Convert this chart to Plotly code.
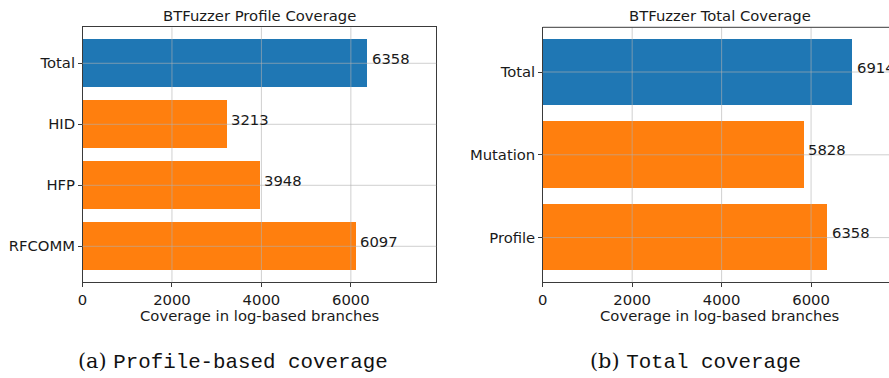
import plotly.graph_objects as go

# ---- data ----
profile_cats = ["RFCOMM", "HFP", "HID", "Total"]
profile_vals = [6097, 3948, 3213, 6358]
profile_colors = ["#ff7f0e", "#ff7f0e", "#ff7f0e", "#1f77b4"]

total_cats = ["Profile", "Mutation", "Total"]
total_vals = [6358, 5828, 6914]
total_colors = ["#ff7f0e", "#ff7f0e", "#1f77b4"]

x_ticks = [0, 2000, 4000, 6000]
x_tick_labels = ["0", "2000", "4000", "6000"]

title_left = "BTFuzzer Profile Coverage"
title_right = "BTFuzzer Total Coverage"
x_title = "Coverage in log-based branches"
cap_left = ("(a)", "Profile-based coverage")
cap_right = ("(b)", "Total coverage")

W, H = 889, 378
FONT = "DejaVu Sans"
FS = 14.8
TXT = "#1a1a1a"
SPINE = "#3a3a3a"
GRID = "rgba(176,176,176,0.6)"

# geometry (pixels)
L_x0, L_x1 = 82.5, 436.3
R_x0 = 542.7
XMAX = 7910.0
px_per_unit = (L_x1 - L_x0) / XMAX
R_full_right = R_x0 + (L_x1 - L_x0)          # right panel extends past the picture
R_xmax = (W - R_x0) / px_per_unit
top_px, bot_px = 27.3, 282.3

fig = go.Figure()

fig.add_trace(go.Bar(
    x=profile_vals, y=profile_cats, orientation="h",
    marker=dict(color=profile_colors, line=dict(width=0)),
    width=0.8, xaxis="x", yaxis="y", showlegend=False, hoverinfo="x+y",
))
fig.add_trace(go.Bar(
    x=total_vals, y=total_cats, orientation="h",
    marker=dict(color=total_colors, line=dict(width=0)),
    width=0.8, xaxis="x2", yaxis="y2", showlegend=False, hoverinfo="x+y",
))

ydom = [(H - bot_px) / H, (H - top_px) / H]
axis_common = dict(
    showgrid=False, zeroline=False, showline=True, linecolor=SPINE, linewidth=1,
    ticks="outside", ticklen=3.5, tickwidth=1, tickcolor=SPINE, automargin=False,
    tickfont=dict(family=FONT, size=FS, color=TXT),
)

fig.update_layout(
    width=W, height=H, margin=dict(l=0, r=0, t=0, b=0, autoexpand=False),
    paper_bgcolor="white", plot_bgcolor="white",
    bargap=0,
    xaxis=dict(domain=[L_x0 / W, L_x1 / W], range=[0, XMAX], anchor="y",
               tickvals=x_ticks, ticktext=x_tick_labels, mirror=True, **axis_common),
    yaxis=dict(domain=ydom, range=[-0.59, len(profile_cats) - 1 + 0.59], anchor="x",
               type="category", categoryorder="array", categoryarray=profile_cats,
               mirror=True, **axis_common),
    xaxis2=dict(domain=[R_x0 / W, 1.0], range=[0, R_xmax], anchor="y2",
                tickvals=x_ticks, ticktext=x_tick_labels, mirror=False, **axis_common),
    yaxis2=dict(domain=ydom, range=[-0.54, len(total_cats) - 1 + 0.54], anchor="x2",
                type="category", categoryorder="array", categoryarray=total_cats,
                mirror=False, **axis_common),
)

shapes = []
for xa, ya, cats in (("x", "y", profile_cats), ("x2", "y2", total_cats)):
    for t in x_ticks[1:]:
        shapes.append(dict(type="line", xref=xa, yref=f"{ya} domain", x0=t, x1=t, y0=0, y1=1,
                           line=dict(color=GRID, width=1), layer="above"))
    for i, _ in enumerate(cats):
        shapes.append(dict(type="line", xref=f"{xa} domain", yref=ya, x0=0, x1=1, y0=i, y1=i,
                           line=dict(color=GRID, width=1), layer="above"))
shapes.append(dict(type="line", xref="x2 domain", yref="y2 domain", x0=0, x1=1, y0=1, y1=1,
                   line=dict(color=SPINE, width=1), layer="above"))
fig.update_layout(shapes=shapes)

ann = []
for xa, ya, cats, vals in (("x", "y", profile_cats, profile_vals), ("x2", "y2", total_cats, total_vals)):
    for c, v in zip(cats, vals):
        ann.append(dict(x=v, y=c, xref=xa, yref=ya, text=str(v), showarrow=False,
                        xanchor="left", yanchor="middle", xshift=3, yshift=5,
                        font=dict(family=FONT, size=FS, color=TXT)))
ann.append(dict(x=(L_x0 + L_x1) / 2 / W, y=1, xref="paper", yref="y domain", text=title_left,
                showarrow=False, xanchor="center", yanchor="bottom", yshift=1,
                font=dict(family=FONT, size=FS, color=TXT)))
ann.append(dict(x=(R_x0 + R_full_right) / 2 / W, y=1, xref="paper", yref="y2 domain",
                text=title_right, showarrow=False, xanchor="center", yanchor="bottom", yshift=1,
                font=dict(family=FONT, size=FS, color=TXT)))
for cx in ((L_x0 + L_x1) / 2 / W, (R_x0 + R_full_right) / 2 / W):
    ann.append(dict(x=cx, y=(H - 315) / H, xref="paper", yref="paper", text=x_title,
                    showarrow=False, xanchor="center", yanchor="middle",
                    font=dict(family=FONT, size=FS, color=TXT)))
for xc, (lab, cap) in ((233 / W, cap_left), (695 / W, cap_right)):
    ann.append(dict(x=xc, y=(H - 361) / H, xref="paper", yref="paper", showarrow=False,
                    xanchor="center", yanchor="middle",
                    text=f'<span style="font-family:DejaVu Serif">{lab} </span>{cap}',
                    font=dict(family="Liberation Mono", size=20.8, color="#111")))
fig.update_layout(annotations=ann)

fig.write_html("out.html", config={"displayModeBar": False},
               post_script="document.body.style.margin='0';document.body.style.overflow='hidden';")
